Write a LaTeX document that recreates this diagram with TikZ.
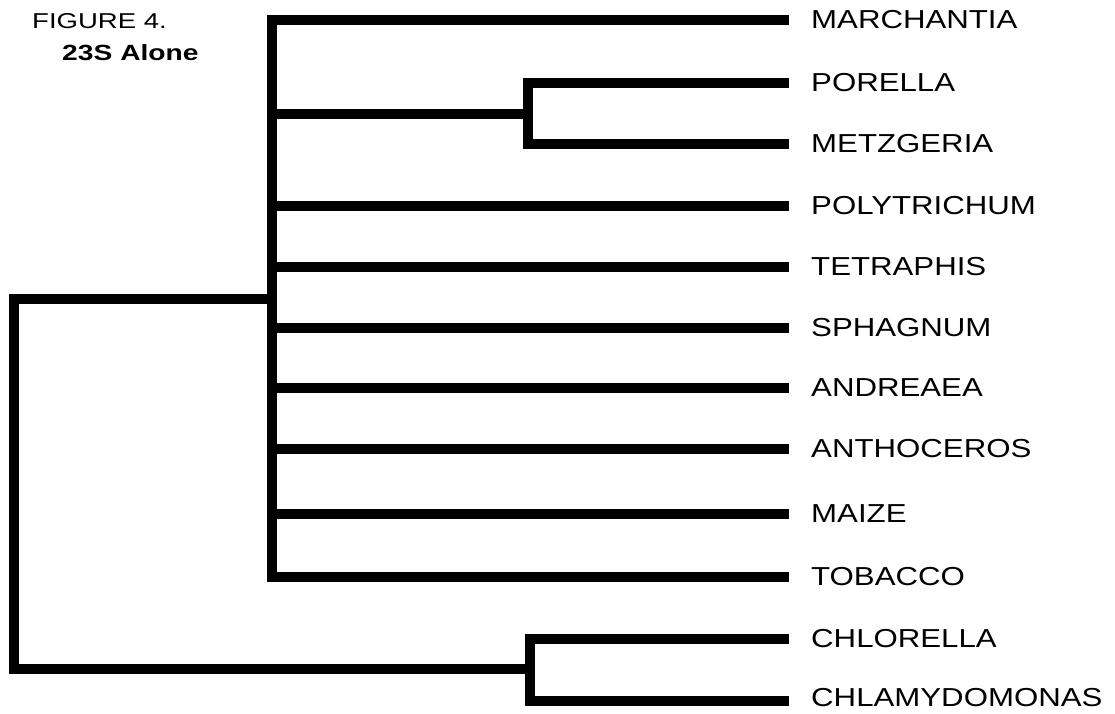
\documentclass[tikz,border=0pt]{standalone}
\usepackage{fontspec}
\newfontfamily\taxonfont[FakeStretch=1.2]{Liberation Sans}
\newfontfamily\captionfont[FakeStretch=1.28]{Liberation Sans}
\tikzset{
  branch/.style={line width=10.5pt, line cap=butt, line join=miter, black},
  taxon/.style={anchor=west, inner sep=0pt, font=\taxonfont\fontsize{26}{28}\selectfont},
  caption/.style={anchor=west, inner sep=0pt, font=\captionfont\fontsize{21.5}{24}\selectfont},
}
\begin{document}
\begin{tikzpicture}[x=1pt,y=-1pt]
\useasboundingbox (0,0) rectangle (1115,713);

% branch tips (right ends of the terminal branches)
\foreach \n/\y in {mar/20, por/83, met/144, pol/206, tet/267, sph/328, and/388, ant/449, mai/514, tob/577, chl/639, chm/701}
  \coordinate (tip-\n) at (789,\y);

% internal nodes
\coordinate (root)  at (14,484);
\coordinate (land)  at (272,299);
\coordinate (hep)   at (528,114);
\coordinate (alga)  at (530,669);

% taxon labels
\foreach \n/\t in {mar/MARCHANTIA, por/PORELLA, met/METZGERIA, pol/POLYTRICHUM,
                   tet/TETRAPHIS, sph/SPHAGNUM, and/ANDREAEA, ant/ANTHOCEROS,
                   mai/MAIZE, tob/TOBACCO, chl/CHLORELLA}
  \node[taxon] (lab-\n) at ([xshift=22pt]tip-\n) {\t};
\node[taxon] (lab-chm) at ([xshift=22pt,yshift=3pt]tip-chm) {CHLAMYDOMONAS};

% title
\node[caption] (title) at (32,21) {FIGURE 4.};
\node[caption, font=\captionfont\bfseries\fontsize{22}{24}\selectfont] (subtitle) at (62,53) {23S\hspace{8pt}Alone};

% root split
\draw[branch] (land) -| (root) |- (alga);

% land plant clade (polytomy)
\draw[branch] (tip-mar) -| (land) |- (tip-tob);
\foreach \n in {pol, tet, sph, and, ant, mai}
  \draw[branch] (land |- tip-\n) -- (tip-\n);
\draw[branch] (land |- hep) -- (hep);

% Porella + Metzgeria
\draw[branch] (tip-por) -| (hep) |- (tip-met);

% Chlorella + Chlamydomonas
\draw[branch] (tip-chl) -| (alga) |- (tip-chm);
\end{tikzpicture}
\end{document}
